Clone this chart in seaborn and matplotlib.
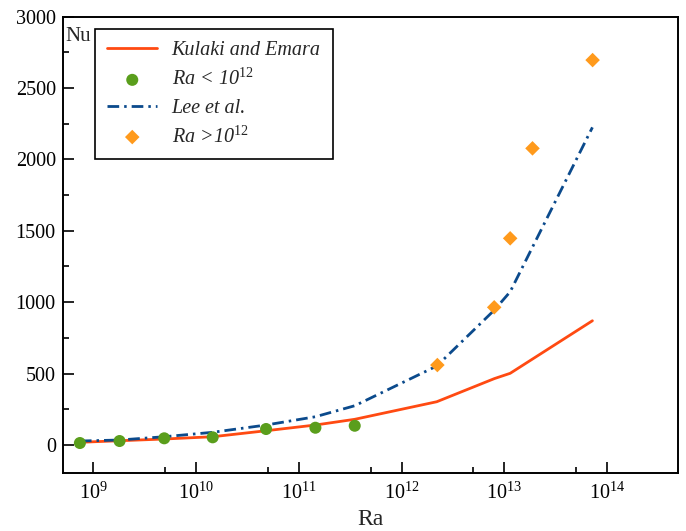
import numpy as np
import pandas as pd
import matplotlib
matplotlib.use("Agg")
import matplotlib.pyplot as plt
import matplotlib.ticker as mticker
import seaborn as sns

# Kulaki and Emara correlation (solid line)
ke_ra = [7.4e8, 1.8e9, 4.9e9, 1.45e10, 4.8e10, 1.45e11, 3.5e11, 2.2e12, 8.0e12, 1.14e13, 7.2e13]
ke_nu = [19, 30, 42, 58, 100, 140, 180, 303, 465, 502, 870]

# Lee et al. correlation (dash-dot line)
lee_ra = [7.4e8, 1.8e9, 4.9e9, 1.45e10, 4.8e10, 1.45e11, 3.5e11, 2.2e12, 8.0e12, 1.14e13, 7.2e13]
lee_nu = [28, 35, 58, 89, 140, 198, 275, 553, 945, 1073, 2224]

# measured points
low_ra = [7.4e8, 1.8e9, 4.9e9, 1.45e10, 4.8e10, 1.45e11, 3.5e11]
low_nu = [14, 28, 47, 54, 112, 121, 135]
high_ra = [2.23e12, 7.97e12, 1.14e13, 1.88e13, 7.23e13]
high_nu = [560, 964, 1447, 2077, 2695]

sns.set_style("ticks")
plt.rcParams["font.family"] = ["Liberation Serif", "DejaVu Serif"]
plt.rcParams["mathtext.fontset"] = "custom"
plt.rcParams["mathtext.rm"] = "Liberation Serif"
plt.rcParams["mathtext.it"] = "Liberation Serif:italic"

fig = plt.figure(figsize=(6.86, 5.31), dpi=100)
ax = fig.add_axes([0.0914, 0.1092, 0.8969, 0.8597])

ke = pd.DataFrame({"Ra": ke_ra, "Nu": ke_nu})
lee = pd.DataFrame({"Ra": lee_ra, "Nu": lee_nu})
low = pd.DataFrame({"Ra": low_ra, "Nu": low_nu})
high = pd.DataFrame({"Ra": high_ra, "Nu": high_nu})

sns.lineplot(data=ke, x="Ra", y="Nu", ax=ax, color="#ff4a12", lw=2.0, label="Kulaki and Emara")
sns.scatterplot(data=low, x="Ra", y="Nu", ax=ax, color="#5a9e1c", s=75, edgecolor="none",
                label=r"Ra < 10$^{\mathit{12}}$", zorder=3)
sns.lineplot(data=lee, x="Ra", y="Nu", ax=ax, color="#0b4a8c", lw=2.0, label="Lee et al.")
ax.lines[-1].set_dashes([4.2, 1.8, 0.9, 1.8])
sns.scatterplot(data=high, x="Ra", y="Nu", ax=ax, color="#ff9a1c", marker="D", s=55,
                edgecolor="none", label=r"Ra >10$^{\mathit{12}}$", zorder=3)

ax.set_xscale("log")
ax.set_xlim(10 ** 8.702, 10 ** 14.69)
ax.set_ylim(-196, 3000)
ax.xaxis.set_major_locator(mticker.FixedLocator([1e9, 1e10, 1e11, 1e12, 1e13, 1e14]))
ax.xaxis.set_major_formatter(mticker.LogFormatterMathtext())
ax.xaxis.set_minor_locator(mticker.FixedLocator([5e8, 5e9, 5e10, 5e11, 5e12, 5e13]))
ax.yaxis.set_major_locator(mticker.MultipleLocator(500))
ax.yaxis.set_minor_locator(mticker.MultipleLocator(250))

ax.tick_params(which="both", direction="in", width=1.2, labelsize=14.5, colors="black")
ax.tick_params(which="major", length=8)
ax.tick_params(which="minor", length=4.5)
ax.tick_params(axis="x", pad=7)
ax.tick_params(axis="y", pad=5)
for sp in ax.spines.values():
    sp.set_visible(True)
    sp.set_linewidth(1.4)
    sp.set_color("black")

ax.set_xlabel("Ra", fontsize=17, labelpad=4)
ax.set_ylabel("")
ax.text(0.004, 0.978, "Nu", transform=ax.transAxes, ha="left", va="top", fontsize=15)

leg = ax.legend(loc="upper left", bbox_to_anchor=(0.0525, 0.972), borderaxespad=0,
                prop={"family": "Liberation Serif", "style": "italic", "size": 14.5},
                frameon=True, fancybox=False, edgecolor="black", framealpha=1,
                handlelength=2.5, labelspacing=0.42, borderpad=0.6, handletextpad=0.7)
leg.get_frame().set_linewidth(1.2)

fig.savefig("out.png", dpi=100)
